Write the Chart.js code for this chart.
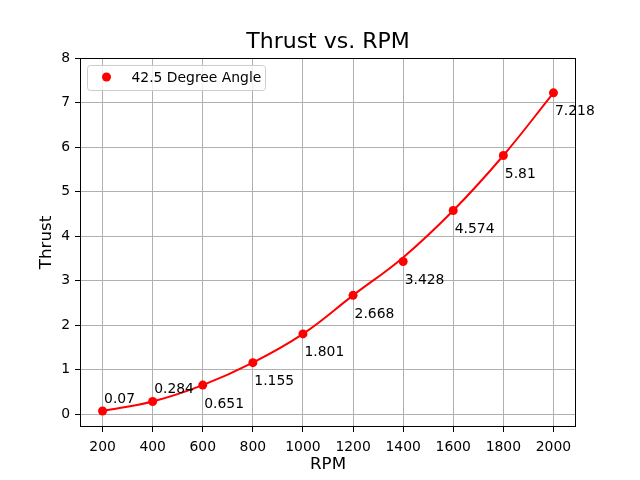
<!DOCTYPE html>
<html>
<head>
<meta charset="utf-8">
<title>Thrust vs. RPM</title>
<script src="https://cdn.jsdelivr.net/npm/chart.js@4.4.1/dist/chart.umd.min.js"></script>
<style>
  html, body { margin: 0; padding: 0; background: #ffffff; }
  #wrap { width: 640px; height: 480px; }
</style>
</head>
<body>
<div id="wrap"><canvas id="chartThrust" width="640" height="480"></canvas></div>
<script>
// ---- data ----
const rpm = [200, 400, 600, 800, 1000, 1200, 1400, 1600, 1800, 2000];
const thrust = [0.07, 0.284, 0.651, 1.155, 1.801, 2.668, 3.428, 4.574, 5.81, 7.218];
// the smooth red curve at the same RPM values
const fitThrust = [0.07, 0.284, 0.651, 1.155, 1.801, 2.668, 3.52, 4.574, 5.81, 7.218];
const xTicks = [200, 400, 600, 800, 1000, 1200, 1400, 1600, 1800, 2000];
const yTicks = [0, 1, 2, 3, 4, 5, 6, 7, 8];
const seriesName = '42.5 Degree Angle';
const chartTitle = 'Thrust vs. RPM';

const FONT = "'DejaVu Sans', sans-serif";
const RED = '#ff0000';

// title drawn above the plot box
const titlePlugin = {
    id: 'titlePlugin',
    afterDraw(chart) {
        const ctx = chart.ctx, a = chart.chartArea;
        ctx.save();
        ctx.font = '22px ' + FONT;
        ctx.fillStyle = '#000';
        ctx.textAlign = 'center';
        ctx.textBaseline = 'alphabetic';
        ctx.fillText(chartTitle, (a.left + a.right) / 2, 48);
        ctx.restore();
    }
};

// black frame round the plot, then the value labels, then the legend box
const framePlugin = {
    id: 'framePlugin',
    afterDatasetsDraw(chart) {
        const ctx = chart.ctx, a = chart.chartArea;
        ctx.save();
        ctx.strokeStyle = '#000';
        ctx.lineWidth = 1;
        ctx.strokeRect(a.left + 0.5, a.top + 0.5, a.right - a.left - 1, a.bottom - a.top - 1);

        // value labels next to each point
        const meta = chart.getDatasetMeta(0);
        ctx.font = '13.9px ' + FONT;
        ctx.fillStyle = '#000';
        ctx.textAlign = 'left';
        ctx.textBaseline = 'alphabetic';
        meta.data.forEach(function(pt, i) {
            const above = i < 2;
            ctx.fillText(String(thrust[i]), pt.x + 1.5, above ? pt.y - 8 : pt.y + 22.5);
        });

        // legend
        const lx = a.left + 7.5, ly = a.top + 7.5, lw = 178, lh = 25, r = 3;
        ctx.beginPath();
        ctx.moveTo(lx + r, ly);
        ctx.lineTo(lx + lw - r, ly);
        ctx.quadraticCurveTo(lx + lw, ly, lx + lw, ly + r);
        ctx.lineTo(lx + lw, ly + lh - r);
        ctx.quadraticCurveTo(lx + lw, ly + lh, lx + lw - r, ly + lh);
        ctx.lineTo(lx + r, ly + lh);
        ctx.quadraticCurveTo(lx, ly + lh, lx, ly + lh - r);
        ctx.lineTo(lx, ly + r);
        ctx.quadraticCurveTo(lx, ly, lx + r, ly);
        ctx.closePath();
        ctx.fillStyle = 'rgba(255,255,255,0.8)';
        ctx.fill();
        ctx.strokeStyle = '#cccccc';
        ctx.stroke();

        ctx.beginPath();
        ctx.arc(a.left + 26.5, a.top + 19, 4.5, 0, Math.PI * 2);
        ctx.fillStyle = RED;
        ctx.fill();

        ctx.fillStyle = '#000';
        ctx.fillText(seriesName, a.left + 51.5, a.top + 23.5);
        ctx.restore();
    }
};

const points = rpm.map(function(v, i) { return { x: v, y: thrust[i] }; });
const curve = rpm.map(function(v, i) { return { x: v, y: fitThrust[i] }; });

new Chart(document.getElementById('chartThrust'), {
    type: 'line',
    data: {
        datasets: [{
            label: seriesName,
            data: points,
            showLine: false,
            pointRadius: 4.5,
            pointBorderWidth: 0,
            pointBackgroundColor: RED,
            order: 0
        }, {
            label: 'fit',
            data: curve,
            borderColor: RED,
            borderWidth: 2,
            pointRadius: 0,
            tension: 0.4,
            fill: false,
            order: 1
        }]
    },
    options: {
        responsive: false,
        animation: false,
        devicePixelRatio: 1,
        layout: { padding: { left: 0, right: 64, top: 58, bottom: 0 } },
        plugins: {
            legend: { display: false },
            tooltip: { enabled: false },
            title: { display: false }
        },
        scales: {
            x: {
                type: 'linear',
                min: 110,
                max: 2090,
                afterFit: function(scale) { scale.height = 53; },
                afterBuildTicks: function(scale) { scale.ticks = xTicks.map(function(v) { return { value: v }; }); },
                grid: { color: '#b0b0b0', lineWidth: 1, tickColor: '#000', tickLength: 5 },
                border: { display: false },
                ticks: {
                    color: '#000', font: { family: FONT, size: 13.9 }, padding: 7, maxRotation: 0,
                    callback: function(value) { return String(value); }
                },
                title: { display: true, text: 'RPM', color: '#000', font: { family: FONT, size: 16.7 }, padding: 5 }
            },
            y: {
                min: -0.29,
                max: 8,
                afterFit: function(scale) { scale.width = 80; },
                afterBuildTicks: function(scale) { scale.ticks = yTicks.map(function(v) { return { value: v }; }); },
                grid: { color: '#b0b0b0', lineWidth: 1, tickColor: '#000', tickLength: 5 },
                border: { display: false },
                ticks: {
                    color: '#000', font: { family: FONT, size: 13.9 }, padding: 5,
                    callback: function(value) { return String(value); }
                },
                title: { display: true, text: 'Thrust', color: '#000', font: { family: FONT, size: 16.7 }, padding: 37 }
            }
        }
    },
    plugins: [titlePlugin, framePlugin]
});
</script>
</body>
</html>
